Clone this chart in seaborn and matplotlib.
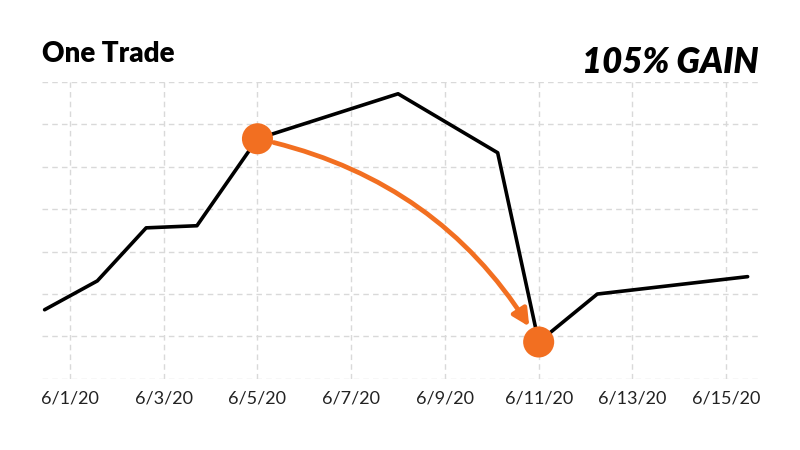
import pandas as pd
import matplotlib
matplotlib.use("Agg")
import matplotlib.pyplot as plt
import seaborn as sns

# Price path for the trade (times)
times = ["2020-05-31 11:00", "2020-06-01 14:00", "2020-06-02 15:00",
         "2020-06-03 17:00", "2020-06-05 00:00", "2020-06-08 00:00",
         "2020-06-10 03:00", "2020-06-11 00:00", "2020-06-12 06:00",
         "2020-06-15 11:00"]
prices = [1.63, 2.31, 3.56, 3.61, 5.66, 6.72, 5.33, 0.87, 2.0, 2.41]

# Entry / exit points of the trade
trade_times = ["2020-06-05 00:00", "2020-06-11 00:00"]
trade_prices = [5.66, 0.87]

tick_dates = ["2020-06-01", "2020-06-03", "2020-06-05", "2020-06-07",
              "2020-06-09", "2020-06-11", "2020-06-13", "2020-06-15"]
tick_labels = ["6/1/20", "6/3/20", "6/5/20", "6/7/20",
               "6/9/20", "6/11/20", "6/13/20", "6/15/20"]

df = pd.DataFrame({"time": pd.to_datetime(times), "price": prices})
trades = pd.DataFrame({"time": pd.to_datetime(trade_times), "price": trade_prices})

sns.set_style("white")
plt.rcParams["font.family"] = ["Lato", "DejaVu Sans"]

orange = "#F26F21"

fig = plt.figure(figsize=(8, 4.5), dpi=100)
ax = fig.add_axes([0.0525, 0.158, 0.8975, 0.66])

sns.lineplot(data=df, x="time", y="price", color="black", linewidth=2.6, ax=ax, zorder=3)

# Curved arrow from entry to exit
ax.annotate("", xy=(trades["time"][1], trades["price"][1]),
            xytext=(trades["time"][0], trades["price"][0]),
            arrowprops=dict(arrowstyle="-|>,head_length=1.0,head_width=0.5",
                            color=orange, lw=3.4, shrinkA=12, shrinkB=13,
                            connectionstyle="arc3,rad=-0.22"), zorder=4)

sns.scatterplot(data=trades, x="time", y="price", color=orange, s=500,
                edgecolor="none", ax=ax, zorder=5)

ax.set_xlim(pd.Timestamp("2020-05-31 09:40"), pd.Timestamp("2020-06-15 17:20"))
ax.set_ylim(0, 7)
ax.set_xticks(pd.to_datetime(tick_dates))
ax.set_xticklabels(tick_labels)
ax.set_yticks(range(0, 8))
ax.set_yticklabels([])
ax.tick_params(axis="both", length=0)
ax.tick_params(axis="x", labelsize=13, colors="#222222", pad=8)
ax.set_xlabel("")
ax.set_ylabel("")

ax.grid(True, color="#d9d9d9", linestyle=(0, (4, 3)), linewidth=1)
for s in ax.spines.values():
    s.set_visible(False)

fig.text(0.053, 0.862, "One Trade", fontsize=20, fontweight="heavy",
         color="black", va="baseline", ha="left")
fig.text(0.948, 0.838, "105% GAIN", fontsize=25, fontweight="heavy",
         style="italic", color="black", va="baseline", ha="right")

fig.savefig("out.png", dpi=100)
